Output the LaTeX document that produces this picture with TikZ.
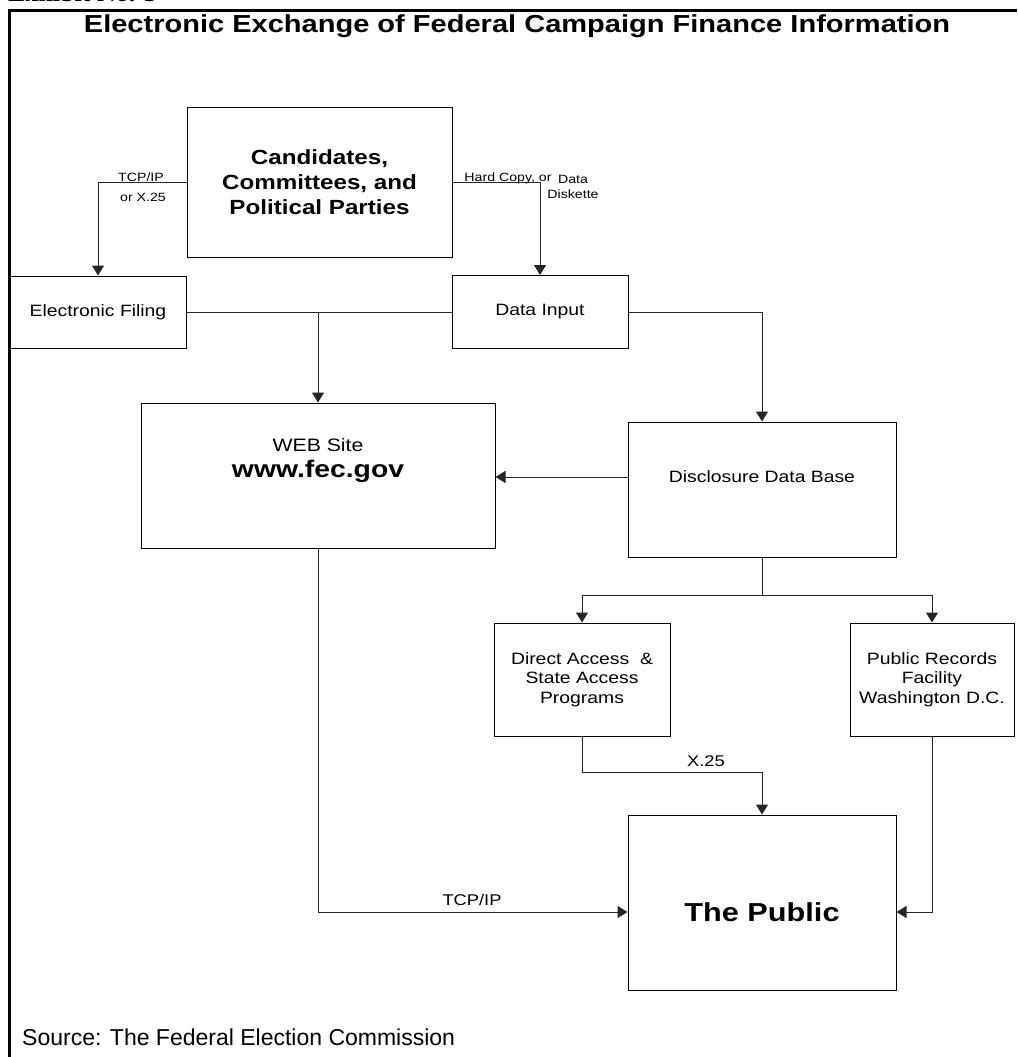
\documentclass[tikz,border=0pt]{standalone}
\usepackage{fontspec}
\setmainfont{Liberation Sans}[FakeStretch=1.18]
\newfontfamily\flatfont{Liberation Sans}
\newfontfamily\exhibitfont{Liberation Serif}
\usetikzlibrary{positioning, arrows.meta}
\newcommand{\txtsize}[2]{\fontsize{#1}{#2}\selectfont}
\tikzset{
  box/.style = {draw, line width=1pt, inner sep=0pt, align=center},
  boxtext/.style = {font=\txtsize{16.4}{19.5}},
  small/.style = {font=\txtsize{12}{14}},
  conn/.style = {line width=1pt, draw=black!85},
  arr/.style = {conn, -{Triangle[width=12pt,length=10pt]}},
  lbl/.style = {inner sep=0pt, anchor=base, align=center}
}

\begin{document}
\begin{tikzpicture} [x=1pt, y=-1pt, on grid]
\useasboundingbox (0,0) rectangle (1017,1057);
\draw [line width=3pt] (1017,11) -- (9,11) -- (9,1057);
\node (exhibit) [inner sep=0pt, anchor=base west, font=\exhibitfont\bfseries\txtsize{26}{28}] at (8,2) {Exhibit No. 3};
\node (title) [lbl, font=\bfseries\txtsize{24.6}{28}] at (517,33) {Electronic Exchange of Federal Campaign Finance Information};
\node (cand) [box, minimum width=265pt, minimum height=150pt, font=\bfseries\txtsize{20.5}{25}] at (319.5,182) {Candidates,\\Committees, and\\Political Parties};
\node (efile) [box, boxtext, minimum width=176pt, minimum height=72pt] at (98,312) {Electronic Filing};
\node (dinput) [box, boxtext, minimum width=176pt, minimum height=73pt, right = 442pt of efile] {Data Input};
\node (web) [box, minimum width=354pt, minimum height=145pt] at (318,475.5) {};
\node (webname) [inner sep=0pt, font=\txtsize{18}{20}] at (318,445) {WEB Site};
\node (webaddr) [inner sep=0pt, font=\bfseries\txtsize{24}{26}] at (318,471) {www.fec.gov};
\node (disc) [box, minimum width=268pt, minimum height=135pt] at (762,489.5) {};
\node (disctext) [inner sep=0pt, boxtext] at (762,477) {Disclosure Data Base};
\node (direct) [box, boxtext, minimum width=176pt, minimum height=113pt] at (582,679.5) {Direct Access~~\&\\State Access\\Programs};
\node (records) [box, boxtext, minimum width=164pt, minimum height=113pt, right = 350pt of direct] {Public Records\\Facility\\Washington D.C.};
\node (public) [box, minimum width=268pt, minimum height=175pt, below = 413pt of disc] {};
\node (publictext) [inner sep=0pt, font=\bfseries\txtsize{26}{30}] at (762,912) {The Public};
\coordinate (split) at (762,595);
\coordinate (dbend) at (582,772);
\node (lbltcp) [lbl, small] at (141,181) {TCP/IP};
\node (lblx25) [lbl, small] at (143,201) {or X.25};
\node (lblhard) [lbl, small] at (508,181) {Hard Copy, or};
\node (lbldata) [lbl, small] at (573,183) {Data};
\node (lbldisk) [lbl, small] at (573,198) {Diskette};
\node (lblx25b) [lbl, font=\txtsize{15.5}{18}] at (706,766) {X.25};
\node (lbltcpb) [lbl, font=\txtsize{15.5}{18}] at (472,905) {TCP/IP};
\node (source) [inner sep=0pt, anchor=base west, font=\flatfont\txtsize{23}{26}] at (22,1045) {Source: The Federal Election Commission};
\draw [arr] (cand.west) -| (efile.north);
\draw [arr] (cand.east) -| (dinput.north);
\draw [conn] (efile.east) -- (dinput.west);
\draw [arr] (efile.east -| web.north) -- (web.north);
\draw [arr] (dinput.east) -| (disc.north);
\draw [arr] (disctext -| disc.west) -- (disctext -| web.east);
\draw [conn] (disc.south) -- (split);
\draw [arr] (split) -| (direct.north);
\draw [arr] (split) -| (records.north);
\draw [arr] (direct.south) -- (dbend) -| (public.north);
\draw [arr] (records.south) |- (publictext -| public.east);
\draw [arr] (web.south) |- (publictext -| public.west);
\end{tikzpicture}
\end{document}
